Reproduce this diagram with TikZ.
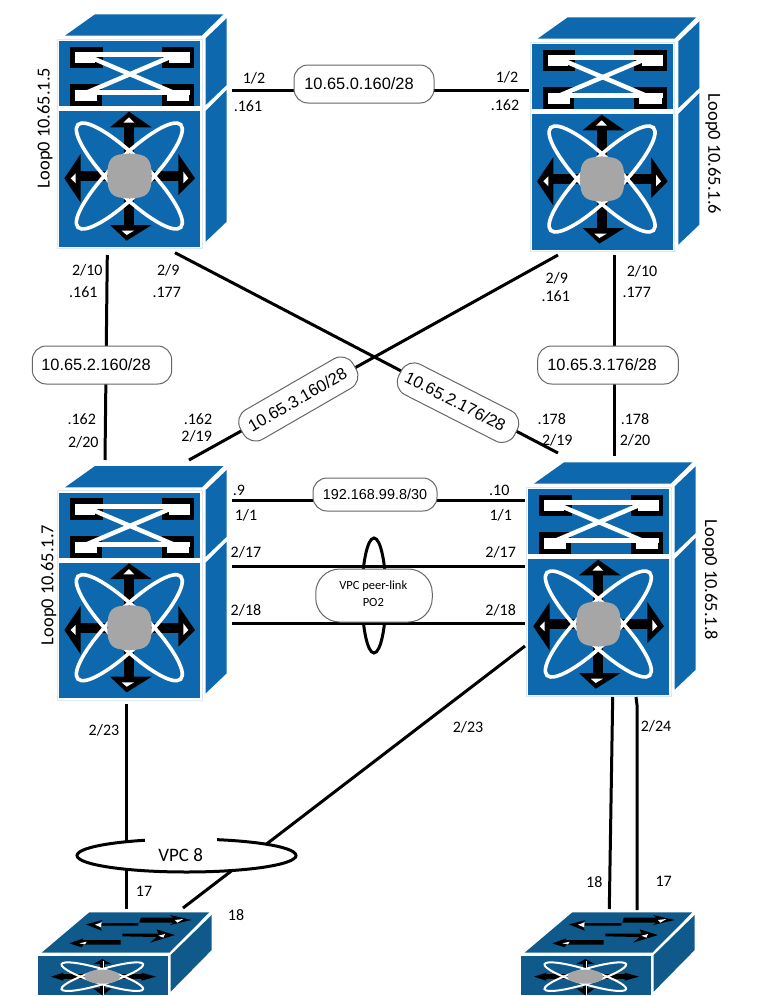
\documentclass[tikz,border=0pt]{standalone}
\usepackage{fontspec}
\usetikzlibrary{shapes.geometric}
\setmainfont{Carlito}
\newfontfamily\helv{Liberation Sans}
\definecolor{nexblue}{HTML}{0E68AD}
\definecolor{nexdark}{HTML}{0F5A8A}
\definecolor{nexgray}{HTML}{A6A6A6}
\definecolor{nexpale}{HTML}{DCE8F4}
\tikzset{
  link/.style={draw=black,line width=3pt},
  lbl/.style={inner sep=0pt,font=\fontsize{16}{16}\selectfont},
  looplbl/.style={inner sep=0pt,font=\fontsize{18.4}{18.4}\selectfont},
  pilltxt/.style={draw=black!60,fill=white,line width=1pt,rounded corners=14pt,inner sep=0pt,font=\helv\fontsize{16.4}{16.4}\selectfont},
  swbox/.style={inner sep=0pt,draw=none},
  bigsw/.pic={
    \begin{scope}[shift={(-29,-41)},scale=1/3]
      \fill[nexblue] (105,107)--(195,43)--(580,43)--(515,107)--cycle;
      \fill[nexblue] (527,115)--(590,55)--(590,255)--(527,315)--cycle;
      \fill[nexblue] (527,333)--(590,270)--(590,665)--(527,725)--cycle;
      \draw[nexpale,line width=.8pt] (82,117) rectangle (516,746);
      \fill[nexblue] (88,123) rectangle (510,318);
      \fill[nexblue] (88,333) rectangle (510,740);
      % upper panel
      \fill[black] (120,140) rectangle (218,205);
      \fill[black] (395,140) rectangle (493,205);
      \fill[black] (120,253) rectangle (215,318);
      \fill[black] (395,253) rectangle (493,318);
      \fill[white] (135,156) rectangle (480,172);
      \fill[white] (135,156) rectangle (195,190);
      \fill[white] (418,156) rectangle (480,190);
      \fill[white] (135,270) rectangle (480,285);
      \fill[white] (135,270) rectangle (202,303);
      \fill[white] (410,270) rectangle (478,303);
      \draw[white,line width=4.5pt] (165,165)--(435,280);
      \draw[white,line width=4.5pt] (435,165)--(165,280);
      % lower panel arrows
      \fill[black] (283,375) rectangle (313,680);
      \fill[black] (150,513) rectangle (450,543);
      \fill[black] (297,335)--(240,382)--(365,382)--cycle;
      \fill[black] (290,722)--(240,675)--(365,675)--cycle;
      \fill[black] (103,535)--(152,462)--(152,608)--cycle;
      \fill[black] (495,535)--(445,462)--(445,585)--cycle;
      \fill[white] (297,352)--(280,368)--(313,368)--cycle;
      \fill[white] (290,705)--(275,692)--(312,692)--cycle;
      \fill[white] (122,535)--(137,520)--(137,550)--cycle;
      \fill[white] (475,535)--(460,515)--(460,550)--cycle;
      \draw[white,line width=3.6pt,rotate around={45:(298,528)}] (298,528) ellipse (218 and 55);
      \draw[white,line width=3.6pt,rotate around={-45:(298,528)}] (298,528) ellipse (218 and 55);
      \fill[nexgray] (232,528) .. controls (232,475) and (245,461) .. (298,461)
        .. controls (351,461) and (365,475) .. (365,528)
        .. controls (365,581) and (351,595) .. (298,595)
        .. controls (245,595) and (232,581) .. (232,528) -- cycle;
    \end{scope}
  },
  smallsw/.pic={
    \begin{scope}[shift={(-18,-66)},scale=1/3]
      \fill[nexdark] (65,188)--(208,67)--(568,67)--(448,188)--cycle;
      \fill[nexdark] (452,195)--(575,75)--(575,180)--(452,305)--cycle;
      \fill[nexdark] (55,197) rectangle (445,315);
      \fill[black] (198,103)--(248,90)--(238,99)--(355,99)--(355,107)--(240,107)--(245,122)--cycle;
      \fill[white] (225,104)--(245,97)--(243,112)--cycle;
      \fill[black] (362,83)--(460,83)--(450,75)--(515,90)--(450,105)--(460,98)--(358,98)--cycle;
      \fill[white] (465,90)--(490,87)--(472,98)--cycle;
      \fill[black] (465,135)--(390,158)--(410,141)--(307,139)--(307,131)--(415,131)--(410,118)--cycle;
      \fill[white] (415,137)--(435,132)--(430,143)--cycle;
      \fill[black] (148,160)--(190,145)--(187,150)--(302,150)--(302,164)--(190,164)--(185,172)--cycle;
      \fill[white] (178,160)--(200,155)--(195,163)--cycle;
      % front
      \fill[black] (240,215) rectangle (254,306);
      \fill[black] (120,253) rectangle (375,267);
      \fill[black] (247,207)--(220,222)--(275,222)--cycle;
      \fill[black] (247,316)--(220,295)--(275,295)--cycle;
      \fill[black] (93,260)--(130,248)--(130,272)--cycle;
      \fill[black] (408,260)--(365,248)--(365,272)--cycle;
      \draw[white,line width=1pt] (250,212)--(250,245) (250,280)--(250,314);
      \draw[white,line width=2pt,rotate around={17:(247,260)}] (247,260) ellipse (128 and 22);
      \draw[white,line width=2pt,rotate around={-17:(247,260)}] (247,260) ellipse (128 and 22);
      \fill[nexgray] (247,260) ellipse (54 and 21);
    \end{scope}
  }
}
\newcommand{\NexusBig}[3]{%
  \pic at (#2,#3) {bigsw};
  \node[swbox,minimum width=141pt,minimum height=206pt,anchor=north west] (#1) at (#2,#3) {};
}
\newcommand{\NexusSmall}[3]{%
  \pic at (#2,#3) {smallsw};
  \node[swbox,minimum width=130pt,minimum height=39pt,anchor=north west] (#1) at (#2,#3) {};
}
\begin{document}
\begin{tikzpicture}[x=1pt,y=-1pt]
\useasboundingbox (0,0) rectangle (759,996);
\NexusBig{swA}{59}{41}
\NexusBig{swB}{531.7}{44}
\NexusBig{swC}{59}{492.7}
\NexusBig{swD}{528}{489}
\NexusSmall{swE}{38}{956}
\NexusSmall{swF}{521}{956}
% connector ends
\coordinate (a12) at (232.3,90);
\coordinate (b12) at (529,90);
\coordinate (a210) at (107.3,255);
\coordinate (c220) at (105,460);
\coordinate (a29) at (175,252.7);
\coordinate (d219) at (558,453);
\coordinate (b29) at (558,255);
\coordinate (c219) at (189,460);
\coordinate (b210) at (614,255);
\coordinate (d220) at (614,456);
\coordinate (c11) at (232,500.3);
\coordinate (d11) at (525,500.3);
\coordinate (c217) at (232,566.7);
\coordinate (d217) at (525,566.7);
\coordinate (c218) at (232,623.3);
\coordinate (d218) at (525,623.3);
\coordinate (c223) at (126,704);
\coordinate (e17) at (126,909);
\coordinate (d223) at (525,646);
\coordinate (e18) at (183,908);
\coordinate (d218b) at (612.7,697);
\coordinate (f18) at (609.3,909);
\coordinate (d224) at (636,697);
\coordinate (f17) at (637,910);
% connectors
\draw[link] (a12)--(b12);
\draw[link] (a210)--(c220);
\draw[link] (a29)--(d219);
\draw[link] (b29)--(c219);
\draw[link] (b210)--(d220);
\draw[link] (c11)--(d11);
\draw[link] (c217)--(d217);
\draw[link] (c218)--(d218);
\draw[link] (c223)--(e17);
\draw[link] (d223)--(e18);
\draw[link] (d218b)--(f18);
\draw[link] (d224)--(637,705)--(f17);
% peer-link ring and VPC 8
\node[draw=black,line width=3pt,ellipse,minimum width=24pt,minimum height=115pt,inner sep=0pt] (ring) at (374,595.5) {};
\node[draw=black,fill=white,line width=3pt,ellipse,minimum width=219pt,minimum height=33pt,inner sep=0pt] (vpceight) at (186.5,855.5) {};
\fill[white] (145,837) rectangle (217,841.5);
\node[lbl,font=\fontsize{19}{19}\selectfont] (vpclbl) at (180.7,855) {VPC 8};
% pills
\node[pilltxt,minimum width=140pt,minimum height=38pt] (p1) at (364,84) {10.65.0.160/28\kern10pt};
\node[pilltxt,minimum width=139.4pt,minimum height=38pt] (p2) at (102,365) {10.65.2.160/28\kern12pt};
\node[pilltxt,minimum width=140.6pt,minimum height=38pt] (p3) at (608,365) {10.65.3.176/28\kern12pt};
\node[pilltxt,minimum width=130pt,minimum height=34pt,rotate=30,font=\helv\fontsize{16.6}{16.6}\selectfont] (p4) at (298.3,399) {10.65.3.160/28\kern2pt};
\node[pilltxt,minimum width=130pt,minimum height=34pt,rotate=-27,font=\helv\fontsize{16.6}{16.6}\selectfont] (p5) at (458,402.7) {10.65.2.176/28\kern6pt};
\node[pilltxt,minimum width=124pt,minimum height=33pt,font=\helv\fontsize{14.4}{14.4}\selectfont] (p6) at (375,494.5) {192.168.99.8/30};
\node[draw=black!60,fill=white,line width=1pt,rounded corners=24pt,minimum width=116.5pt,minimum height=53pt,inner sep=0pt] (p7) at (374,595.5) {};
\node[lbl,font=\fontsize{12.5}{12.5}\selectfont] (p7a) at (373.3,585.7) {VPC peer-link};
\node[lbl,font=\fontsize{12.5}{12.5}\selectfont] (p7b) at (373.3,602.7) {PO2};
% loop labels
\node[looplbl,rotate=90] (la) at (45,128) {Loop0 10.65.1.5};
\node[looplbl,rotate=-90] (lb) at (713,154) {Loop0 10.65.1.6};
\node[looplbl,rotate=90] (lc) at (48.7,585) {Loop0 10.65.1.7};
\node[looplbl,rotate=-90] (ld) at (710,580) {Loop0 10.65.1.8};
% port labels
\node[lbl] (t1) at (254,78) {1/2};
\node[lbl] (t2) at (248,106) {.161};
\node[lbl] (t3) at (507,77) {1/2};
\node[lbl] (t4) at (505,105) {.162};
\node[lbl] (t5) at (87.3,270.7) {2/10};
\node[lbl] (t6) at (83.3,292) {.161};
\node[lbl] (t7) at (168.3,270.7) {2/9};
\node[lbl] (t8) at (166.7,292) {.177};
\node[lbl] (t9) at (81.7,419) {.162};
\node[lbl] (t10) at (83.3,442.7) {2/20};
\node[lbl] (t11) at (198,419) {.162};
\node[lbl] (t12) at (196.7,436.7) {2/19};
\node[lbl] (t13) at (556.7,278) {2/9};
\node[lbl] (t14) at (555.7,296) {.161};
\node[lbl] (t15) at (642,271) {2/10};
\node[lbl] (t16) at (636.7,292) {.177};
\node[lbl] (t17) at (551.7,419) {.178};
\node[lbl] (t18) at (557.3,440) {2/19};
\node[lbl] (t19) at (635,419) {.178};
\node[lbl] (t20) at (635,440) {2/20};
\node[lbl] (t21) at (239,490.7) {.9};
\node[lbl] (t22) at (246,515.7) {1/1};
\node[lbl] (t23) at (499.3,490) {.10};
\node[lbl] (t24) at (500.7,515.7) {1/1};
\node[lbl] (t25) at (246,552.7) {2/17};
\node[lbl] (t26) at (500.7,552.7) {2/17};
\node[lbl] (t27) at (246,610) {2/18};
\node[lbl] (t28) at (500.7,610) {2/18};
\node[lbl] (t29) at (104,730) {2/23};
\node[lbl] (t30) at (144,891.7) {17};
\node[lbl] (t31) at (236,915) {18};
\node[lbl] (t32) at (468,727) {2/23};
\node[lbl] (t33) at (656,726.7) {2/24};
\node[lbl] (t34) at (594.3,881.7) {18};
\node[lbl] (t35) at (663.7,881.7) {17};
\end{tikzpicture}
\end{document}
